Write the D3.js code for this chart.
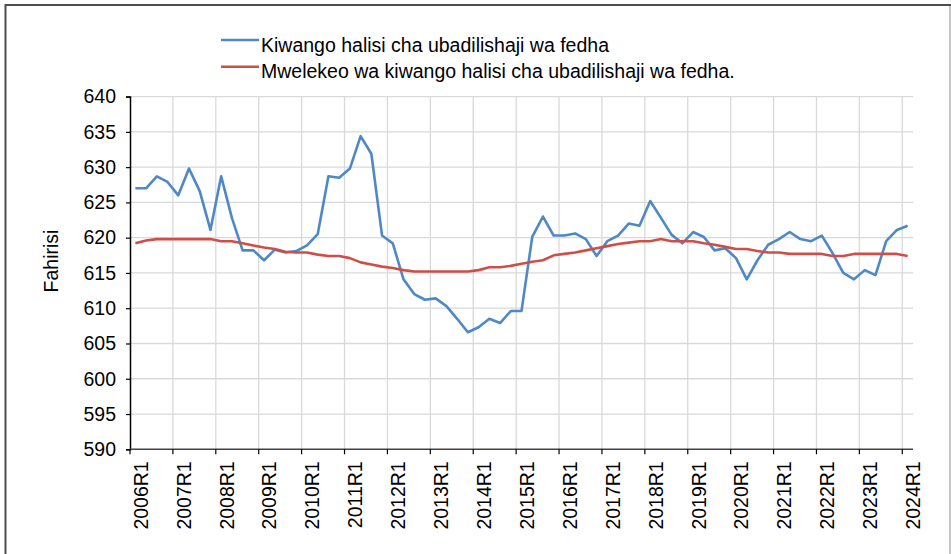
<!DOCTYPE html>
<html>
<head>
<meta charset="utf-8">
<script src="https://cdn.jsdelivr.net/npm/d3@7"></script>
<style>
  body { margin: 0; background: #fff; }
  text { font-family: "Liberation Sans", Arial, Helvetica, sans-serif; fill: #000; }
</style>
</head>
<body>
<div id="chart"></div>
<script>

// quarters 2006R1 .. 2024R1
var categories = [];
d3.range(2006, 2025).forEach(function(yr) {
	d3.range(1, 5).forEach(function(q) {
		if (yr < 2024 || q == 1) categories.push(yr + "R" + q);
	});
});

var realRate = [
	627.0, 627.0, 628.7, 627.9, 626.0, 629.8, 626.6, 621.1, 628.7, 622.8,
	618.2, 618.2, 616.8, 618.3, 617.9, 618.1, 618.9, 620.5, 628.7, 628.5,
	629.8, 634.4, 631.9, 620.3, 619.2, 614.1, 612.0, 611.2, 611.4, 610.3,
	608.5, 606.6, 607.3, 608.5, 607.9, 609.6, 609.6, 620.1, 623.0, 620.3,
	620.3, 620.6, 619.8, 617.4, 619.5, 620.3, 622.0, 621.7, 625.2, 622.8,
	620.4, 619.2, 620.8, 620.1, 618.2, 618.5, 617.1, 614.1, 616.8, 619.0,
	619.8, 620.8, 619.8, 619.5, 620.3, 617.8, 615.0, 614.1, 615.4, 614.7,
	619.5, 621.1, 621.7
];

var trend = [
	619.2, 619.6, 619.8, 619.8, 619.8, 619.8, 619.8, 619.8, 619.5, 619.5,
	619.2, 618.9, 618.6, 618.4, 618.0, 617.9, 617.9, 617.6, 617.4, 617.4,
	617.1, 616.5, 616.2, 615.9, 615.7, 615.4, 615.2, 615.2, 615.2, 615.2,
	615.2, 615.2, 615.4, 615.8, 615.8, 616.0, 616.3, 616.6, 616.8, 617.5,
	617.7, 617.9, 618.2, 618.5, 618.8, 619.1, 619.3, 619.5, 619.5, 619.8,
	619.5, 619.5, 619.5, 619.2, 619.0, 618.7, 618.4, 618.4, 618.1, 617.9,
	617.9, 617.7, 617.7, 617.7, 617.7, 617.4, 617.4, 617.7, 617.7, 617.7,
	617.7, 617.7, 617.4
];

var yTicks = [590, 595, 600, 605, 610, 615, 620, 625, 630, 635, 640];
var seriesNames = [
	"Kiwango halisi cha ubadilishaji wa fedha",
	"Mwelekeo wa kiwango halisi cha ubadilishaji wa fedha."
];
var colors = ["#4f88c6", "#cc5049"];

var width = 951,
    height = 554;
var plotL = 130, plotR = 913, plotT = 96.6, plotB = 449.3;
var fontSize = "19.5px";

var svg = d3.select("#chart")
	.append("svg")
	.attr("width", width)
	.attr("height", height);

// outer frame
svg.append("rect")
	.attr("x", 5.5).attr("y", 5)
	.attr("width", width + 20).attr("height", height + 20)
	.attr("fill", "none")
	.attr("stroke", "#4d4d4d")
	.attr("stroke-width", 2);
svg.append("line")
	.attr("x1", 950).attr("x2", 950)
	.attr("y1", 6).attr("y2", height)
	.attr("stroke", "#b0b0b0")
	.attr("stroke-width", 1.5);

var x = d3.scaleBand()
	.domain(categories)
	.range([plotL, plotR])
	.padding(0);

var y = d3.scaleLinear()
	.domain([590, 640])
	.range([plotB, plotT]);

var labelCats = categories.filter(function(c) { return /R1$/.test(c); });
var cx = function(i) { return x(categories[i]) + x.bandwidth() / 2; };

// grid lines
var grid = svg.append("g").attr("class", "grid");
grid.selectAll("line.h")
	.data(yTicks.slice(1))
	.enter().append("line")
	.attr("x1", plotL).attr("x2", plotR)
	.attr("y1", d => y(d)).attr("y2", d => y(d))
	.attr("stroke", "#d9d9d9")
	.attr("stroke-width", 1.3);
grid.selectAll("line.v")
	.data(labelCats.slice(1))
	.enter().append("line")
	.attr("x1", d => x(d)).attr("x2", d => x(d))
	.attr("y1", plotT).attr("y2", plotB)
	.attr("stroke", "#d9d9d9")
	.attr("stroke-width", 1.3);

// y axis
var yAxis = svg.append("g")
	.attr("transform", "translate(" + plotL + ",0)")
	.call(d3.axisLeft(y).tickValues(yTicks).tickSize(4).tickPadding(10));
yAxis.select(".domain").attr("stroke", "#000").attr("stroke-width", 1.5);
yAxis.selectAll(".tick line").attr("stroke", "#000").attr("stroke-width", 1.2);
yAxis.selectAll("text")
	.style("font-size", fontSize)
	.style("font-family", "'Liberation Sans', Arial, sans-serif");

// x axis: tick marks at the boundaries, labels at the quarter centres
var xAxis = svg.append("g")
	.attr("transform", "translate(0," + plotB + ")");
xAxis.append("line")
	.attr("x1", plotL).attr("x2", plotR)
	.attr("y1", 0).attr("y2", 0)
	.attr("stroke", "#444")
	.attr("stroke-width", 1.5);
xAxis.selectAll("line.tk")
	.data(labelCats)
	.enter().append("line")
	.attr("x1", d => x(d)).attr("x2", d => x(d))
	.attr("y1", 0).attr("y2", 5)
	.attr("stroke", "#000")
	.attr("stroke-width", 1.2);

var xLabels = svg.append("g")
	.attr("transform", "translate(" + (x.bandwidth() / 2) + "," + plotB + ")")
	.call(d3.axisBottom(x).tickValues(labelCats).tickSize(0).tickPadding(0));
xLabels.select(".domain").remove();
xLabels.selectAll("text")
	.style("font-size", fontSize)
	.style("font-family", "'Liberation Sans', Arial, sans-serif")
	.attr("text-anchor", "end")
	.attr("transform", "rotate(-90)")
	.attr("x", -12)
	.attr("y", 0)
	.attr("dy", "0.36em");

// y title
svg.append("text")
	.attr("transform", "translate(51,261) rotate(-90)")
	.attr("text-anchor", "middle")
	.attr("dy", "0.35em")
	.style("font-size", fontSize)
	.text("Fahirisi");

// lines
var line = d3.line()
	.x(function(d, i) { return cx(i); })
	.y(function(d) { return y(d); });

[realRate, trend].forEach(function(s, idx) {
	svg.append("path")
		.datum(s)
		.attr("fill", "none")
		.attr("stroke", colors[idx])
		.attr("stroke-width", 2.6)
		.attr("stroke-linejoin", "round")
		.attr("d", line);
});

// legend
var legend = svg.append("g");
seriesNames.map(function(d, idx) {
	var ly = 40 + idx * 26.7;
	legend.append("line")
		.attr("x1", 221).attr("x2", 259)
		.attr("y1", ly).attr("y2", ly)
		.attr("stroke", colors[idx])
		.attr("stroke-width", 2.6);
	legend.append("text")
		.attr("x", 261)
		.attr("y", ly + 11.5)
		.style("font-size", fontSize)
		.text(d);
});

</script>
</body>
</html>
